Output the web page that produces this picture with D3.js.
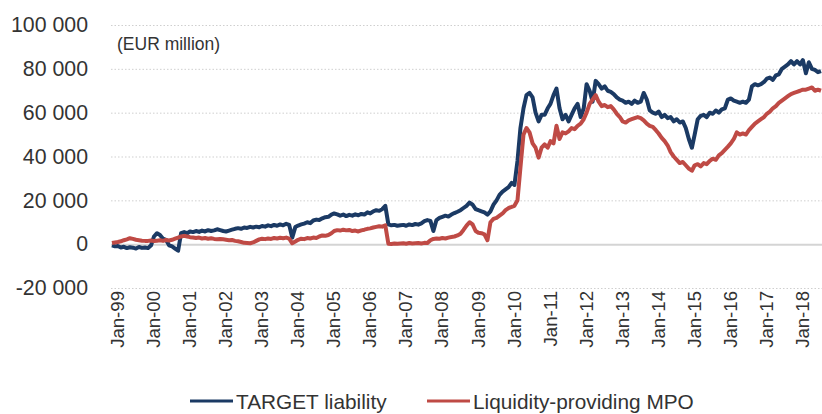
<!DOCTYPE html>
<html>
<head>
<meta charset="utf-8">
<script src="https://cdn.jsdelivr.net/npm/d3@7"></script>
<style>
  body { margin: 0; background: #fff; }
  svg text { font-family: "Liberation Sans", Arial, sans-serif; fill: #333; }
</style>
</head>
<body>
<div id="chart"></div>
<script>
'use strict';

// Monthly readings, EUR billion (x1000 = EUR million), Jan 1999 .. Sep 2018
const targetLiability = [
  -0.5, -1.0, -0.8, -1.5, -1.2, -1.8, -1.4, -1.6, -2.0, -1.3, -1.7, -1.5,
  -1.8, -0.5, 3.5, 5.0, 4.2, 2.5, 2.0, -0.5, -1.0, -2.0, -3.0, 5.0,
  5.5, 5.0, 5.8, 5.5, 6.0, 5.6, 6.2, 5.8, 6.4, 6.0, 6.3, 6.8,
  6.4, 6.0, 5.8, 6.2, 6.6, 7.0, 7.3, 7.0, 7.6, 7.4, 7.9, 7.6,
  8.0, 7.7, 8.3, 8.0, 8.6, 8.2, 8.8, 8.4, 9.0, 8.6, 9.3, 8.8,
  3.0, 7.8, 8.5, 9.0, 9.4, 10.0, 9.6, 10.8, 11.2, 11.0, 11.8, 12.3,
  12.5, 13.5, 14.0, 13.6, 13.0, 13.5, 12.8, 13.4, 13.0, 13.6, 13.2, 13.8,
  13.5, 14.5, 14.0, 15.0, 15.5, 15.2, 16.0, 17.5, 9.0, 8.6, 8.8, 8.4,
  8.6, 8.8, 8.4, 9.0, 8.7, 9.2, 8.9, 9.5, 10.5, 11.0, 10.6, 6.0,
  11.0, 12.0, 12.5, 13.0, 12.6, 13.5, 14.2, 14.8, 15.5, 16.5, 17.5, 19.0,
  18.0, 16.0, 15.5, 15.0, 14.5, 13.5, 15.0, 18.0, 20.0, 22.5, 24.0, 25.0,
  26.0, 28.0, 27.0, 38.0, 53.0, 62.0, 68.0, 69.0, 67.0, 60.0, 56.0, 59.0,
  59.0, 62.0, 64.0, 68.0, 71.0, 62.0, 57.0, 59.0, 56.0, 59.0, 62.0, 64.0,
  58.0, 62.0, 73.0, 70.0, 65.0, 74.5, 73.0, 71.0, 72.0, 70.0, 69.5, 68.5,
  67.0, 66.0, 65.5, 64.5, 65.0, 64.0, 65.5, 64.5, 65.0, 69.0, 66.0, 61.0,
  60.0, 59.5, 60.5, 58.0, 59.0, 57.5, 58.0, 56.0, 57.0, 55.5, 56.0, 53.0,
  48.0, 44.0, 50.0, 57.0, 58.5, 59.0, 58.0, 60.0, 59.5, 61.0, 60.0, 61.5,
  62.0, 66.0, 66.5, 65.5, 65.0, 64.5, 65.0, 64.5, 66.0, 72.0, 73.0, 72.5,
  73.0, 74.0, 75.5, 76.0, 75.0, 77.0, 77.5, 80.0, 81.0, 82.0, 83.5, 82.0,
  83.5, 82.0, 84.0, 78.0, 83.0, 80.0, 79.5, 78.5, 79.0
];

const liquidityMpo = [
  0.5, 0.8, 1.0, 1.3, 1.8, 2.2, 2.7, 2.4, 2.0, 1.8, 1.6, 1.5,
  1.5, 1.7, 1.4, 1.6, 1.8, 1.5, 1.9, 1.7, 2.0, 2.5, 3.0, 3.5,
  3.8, 3.5, 3.2, 3.0, 2.8, 3.0, 2.6, 2.8, 2.5, 2.7, 2.4, 2.2,
  2.4, 2.2, 2.0, 1.8, 1.9, 1.5, 1.3, 1.0, 0.6, 0.5, 0.4, 0.8,
  1.5, 2.2, 2.5, 2.3, 2.6, 2.4, 2.8, 2.6, 2.9, 2.7, 3.0, 2.5,
  0.4, 1.2, 2.0, 2.5, 2.3, 2.8, 2.6, 3.0, 2.8, 3.5, 4.0, 3.8,
  4.2, 5.0, 6.0, 6.4, 6.2, 6.6, 6.3, 6.5, 6.0, 6.2, 5.8, 6.3,
  6.6, 7.0, 7.2, 7.6, 7.9, 8.2, 8.0, 8.6, 0.2, 0.1, 0.3, 0.2,
  0.3, 0.4, 0.2, 0.5, 0.3, 0.4, 0.5, 0.3, 0.6, 0.5, 1.8, 2.4,
  2.6, 2.5, 2.8, 2.6, 3.0, 3.3, 3.5, 4.0, 4.8, 6.5, 8.5, 10.0,
  9.0, 6.0, 5.2, 5.0, 4.5, 1.8, 10.0, 11.5, 12.0, 13.0, 14.0, 15.5,
  16.5, 17.0, 17.5, 20.0, 35.0, 50.0, 53.0, 51.0, 46.0, 44.0, 39.5, 44.0,
  45.5, 44.0, 47.0, 46.0, 54.0, 48.0, 51.0, 50.5, 51.5, 53.0, 52.5, 54.0,
  55.0, 57.0, 60.0, 64.0, 66.0, 68.0, 65.0, 63.0, 63.5, 62.5, 63.0, 61.5,
  59.5, 58.0, 56.0, 55.5, 56.5, 57.0, 57.5, 58.0, 57.5, 56.5, 55.0, 54.0,
  53.5, 52.0, 50.5, 48.5, 47.0, 45.0, 42.0, 40.0, 38.5, 37.0, 37.5, 36.0,
  34.5, 33.5, 36.0, 36.5, 35.5, 37.0, 36.5, 38.0, 39.0, 38.5, 40.5, 41.5,
  43.0, 44.5, 46.0, 48.0, 51.0, 50.0, 50.5, 50.0, 52.0, 53.5, 55.0, 56.0,
  57.0, 58.0, 59.5, 60.5, 62.0, 63.0, 64.5, 65.5, 66.5, 67.5, 68.5, 69.0,
  69.5, 70.0, 70.5, 70.5, 71.0, 71.5, 70.0, 70.5, 70.0
];

const xLabels = ['Jan-99', 'Jan-00', 'Jan-01', 'Jan-02', 'Jan-03', 'Jan-04', 'Jan-05',
  'Jan-06', 'Jan-07', 'Jan-08', 'Jan-09', 'Jan-10', 'Jan-11', 'Jan-12', 'Jan-13',
  'Jan-14', 'Jan-15', 'Jan-16', 'Jan-17', 'Jan-18'];

const yTicks = [-20000, 0, 20000, 40000, 60000, 80000, 100000];

const seriesNames = ['TARGET liability', 'Liquidity-providing MPO'];
const seriesColors = ['#1b3a64', '#bf4a45'];

const UNIT = 1000; // billion -> million

const width = 822,
  height = 414,
  plotLeft = 111,
  plotRight = 821,
  plotTop = 25,
  plotBottom = 288;

const startDate = new Date(1999, 0, 1);
const dates = targetLiability.map((d, i) => d3.timeMonth.offset(startDate, i));

const svg = d3.select('#chart')
  .append('svg')
  .attr('width', width)
  .attr('height', height);

const xScale = d3.scaleTime()
  .domain([startDate, dates[dates.length - 1]])
  .range([plotLeft + 1, plotRight]);

const yScale = d3.scaleLinear()
  .domain([-20000, 100000])
  .range([plotBottom, plotTop]);

const locale = d3.formatLocale({ decimal: '.', thousands: ' ', grouping: [3], currency: ['', ''], minus: '-' });
const fmt = locale.format(',');

// y axis with grid
const yAxis = d3.axisLeft(yScale)
  .tickValues(yTicks)
  .tickSize(-(width - plotLeft))
  .tickPadding(23)
  .tickFormat(fmt);

const yg = svg.append('g')
  .attr('transform', `translate(${plotLeft}, 0)`)
  .call(yAxis);

yg.select('.domain').remove();
yg.selectAll('.tick line')
  .attr('stroke', '#cfcfcf')
  .attr('stroke-dasharray', '1.5,2')
  .filter(d => d === 0)
  .attr('stroke', '#d4d4d4')
  .attr('stroke-width', 2)
  .attr('stroke-dasharray', null);
yg.selectAll('.tick text')
  .style('font-size', '21.3px')
  .attr('fill', '#333');

// x axis labels (rotated)
const xTickDates = xLabels.map((d, i) => new Date(1999 + i, 0, 1));
const xAxis = d3.axisBottom(xScale)
  .tickValues(xTickDates)
  .tickSize(0)
  .tickFormat((d, i) => xLabels[i]);

const xg = svg.append('g')
  .attr('transform', `translate(0, ${plotBottom})`)
  .call(xAxis);

xg.select('.domain').remove();
xg.selectAll('.tick text')
  .style('font-size', '18.6px')
  .attr('fill', '#333')
  .attr('text-anchor', 'end')
  .attr('transform', 'rotate(-90)')
  .attr('x', -3)
  .attr('y', 5)
  .attr('dy', '0.35em');

// unit label
svg.append('text')
  .attr('x', 117)
  .attr('y', 50)
  .style('font-size', '17.5px')
  .text('(EUR million)');

// lines
const line = d3.line()
  .x((d, i) => xScale(dates[i]))
  .y(d => yScale(d * UNIT));

[targetLiability, liquidityMpo].forEach((series, k) => {
  svg.append('path')
    .datum(series)
    .attr('fill', 'none')
    .attr('stroke', seriesColors[k])
    .attr('stroke-width', 4)
    .attr('stroke-linejoin', 'round')
    .attr('d', line);
});

// legend
const legendX = [190, 427];
const legend = svg.append('g')
  .selectAll('g')
  .data(seriesNames)
  .enter()
  .append('g')
  .attr('transform', (d, i) => `translate(${legendX[i]}, 401)`);

legend.append('line')
  .attr('x1', 0)
  .attr('x2', 43)
  .attr('stroke', (d, i) => seriesColors[i])
  .attr('stroke-width', 3);

legend.append('text')
  .attr('x', 46)
  .attr('y', 7.5)
  .style('font-size', '20.8px')
  .text(d => d);
</script>
</body>
</html>
